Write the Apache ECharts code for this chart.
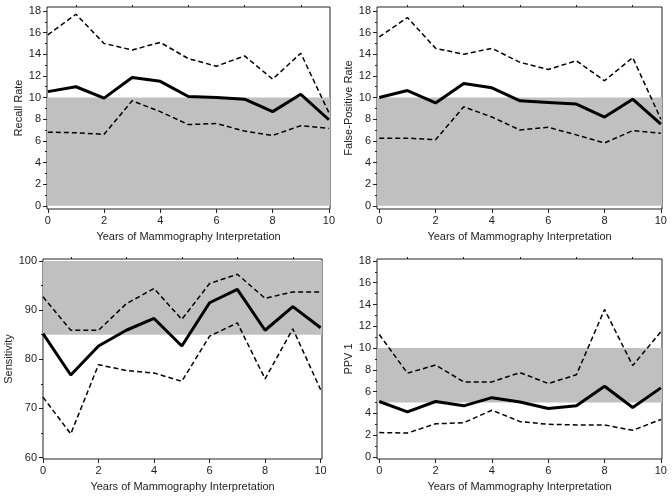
<!DOCTYPE html>
<html>
<head>
<meta charset="utf-8">
<script src="https://cdn.jsdelivr.net/npm/echarts@6/dist/echarts.min.js"></script>
<style>
  html, body { margin: 0; padding: 0; background: #fff; }
  #chart { width: 672px; height: 502px; }
</style>
</head>
<body>
<div id="chart"></div>
<script>
// years on the x axis
const years = [0, 1, 2, 3, 4, 5, 6, 7, 8, 9, 10];

// recall rate
const recallUpper = [15.8, 17.7, 15.0, 14.4, 15.1, 13.6, 12.9, 13.85, 11.7, 14.1, 8.6];
const recallMean  = [10.55, 11.0, 9.95, 11.85, 11.5, 10.1, 10.0, 9.85, 8.7, 10.3, 7.95];
const recallLower = [6.8, 6.75, 6.6, 9.7, 8.7, 7.5, 7.6, 6.9, 6.5, 7.4, 7.15];

// false-positive rate
const fprUpper = [15.6, 17.4, 14.55, 14.0, 14.55, 13.25, 12.6, 13.4, 11.55, 13.7, 8.0];
const fprMean  = [10.0, 10.65, 9.5, 11.3, 10.9, 9.7, 9.55, 9.4, 8.2, 9.85, 7.55];
const fprLower = [6.25, 6.25, 6.1, 9.15, 8.2, 7.0, 7.25, 6.55, 5.8, 6.95, 6.7];

// sensitivity
const sensUpper = [92.7, 85.9, 85.9, 91.3, 94.4, 88.1, 95.4, 97.3, 92.4, 93.7, 93.7];
const sensMean  = [85.2, 76.8, 82.7, 85.9, 88.3, 82.7, 91.5, 94.2, 85.9, 90.7, 86.4];
const sensLower = [72.3, 64.8, 78.9, 77.7, 77.2, 75.5, 84.7, 87.4, 76.0, 86.2, 73.8];

// PPV 1
const ppvUpper = [11.25, 7.7, 8.45, 6.9, 6.9, 7.75, 6.75, 7.55, 13.55, 8.4, 11.5];
const ppvMean  = [5.1, 4.15, 5.1, 4.7, 5.45, 5.05, 4.45, 4.7, 6.5, 4.55, 6.35];
const ppvLower = [2.25, 2.2, 3.05, 3.15, 4.3, 3.25, 3.0, 2.95, 2.95, 2.45, 3.45];

// shaded target ranges
const recallBand = [0, 10];
const fprBand = [0, 10];
const sensBand = [85, 100];
const ppvBand = [5, 10];

// tick values
const xTicks = [0, 2, 4, 6, 8, 10];
const xMinorTicks = [1, 3, 5, 7, 9];
const rateTicks = [0, 2, 4, 6, 8, 10, 12, 14, 16, 18];
const rateMinorTicks = [1, 3, 5, 7, 9, 11, 13, 15, 17];
const sensTicks = [60, 70, 80, 90, 100];
const sensMinorTicks = [65, 75, 85, 95];

const xTitle = 'Years of Mammography Interpretation';
const font = "'Liberation Sans', Arial, sans-serif";
const ink = '#222';

const panels = [
    {name: 'Recall Rate', upper: recallUpper, mean: recallMean, lower: recallLower, band: recallBand,
     ticks: rateTicks, minor: rateMinorTicks,
     grid: {left: 47, top: 7, width: 283, height: 202}, x: [-0.03, 10.04], y: [-0.3, 18.37], nameGap: 20},
    {name: 'False-Positive Rate', upper: fprUpper, mean: fprMean, lower: fprLower, band: fprBand,
     ticks: rateTicks, minor: rateMinorTicks,
     grid: {left: 377, top: 7, width: 285, height: 202}, x: [-0.08, 10.04], y: [-0.3, 18.37], nameGap: 20},
    {name: 'Sensitivity', upper: sensUpper, mean: sensMean, lower: sensLower, band: sensBand,
     ticks: sensTicks, minor: sensMinorTicks,
     grid: {left: 43, top: 259, width: 279, height: 200}, x: [0, 10.05], y: [59.7, 100.4], nameGap: 21},
    {name: 'PPV 1', upper: ppvUpper, mean: ppvMean, lower: ppvLower, band: ppvBand,
     ticks: rateTicks, minor: rateMinorTicks,
     grid: {left: 377, top: 259, width: 285, height: 200}, x: [-0.08, 10.04], y: [-0.18, 18.18], nameGap: 20}
];

const grids = [], xAxes = [], yAxes = [], series = [];

const pairs = vals => years.map((x, j) => [x, vals[j]]);

panels.forEach((p, i) => {
    grids.push(Object.assign({show: true, borderColor: ink, borderWidth: 1, backgroundColor: 'transparent'}, p.grid));
    //主刻度轴
    xAxes.push({
        type: 'value', gridIndex: i, min: p.x[0], max: p.x[1],
        name: xTitle, nameLocation: 'middle', nameGap: 22,
        nameTextStyle: {fontFamily: font, fontSize: 11, color: ink},
        axisLine: {show: false, onZero: false},
        axisTick: {show: true, length: 4, customValues: xTicks, lineStyle: {color: ink}},
        axisLabel: {customValues: xTicks, fontFamily: font, fontSize: 11, color: ink, margin: 6},
        splitLine: {show: false}
    });
    //次刻度轴
    xAxes.push({
        type: 'value', gridIndex: i, min: p.x[0], max: p.x[1],
        axisLine: {show: false, onZero: false},
        axisTick: {show: true, length: 2, customValues: xMinorTicks, lineStyle: {color: ink}},
        axisLabel: {show: false},
        splitLine: {show: false}
    });
    yAxes.push({
        type: 'value', gridIndex: i, position: 'left', min: p.y[0], max: p.y[1],
        name: p.name, nameLocation: 'middle', nameGap: p.nameGap,
        nameTextStyle: {fontFamily: font, fontSize: 11, color: ink},
        axisLine: {show: false, onZero: false},
        axisTick: {show: true, length: 4, customValues: p.ticks, lineStyle: {color: ink}},
        axisLabel: {customValues: p.ticks, fontFamily: font, fontSize: 11, color: ink, margin: 6},
        splitLine: {show: false}
    });
    yAxes.push({
        type: 'value', gridIndex: i, position: 'left', min: p.y[0], max: p.y[1],
        axisLine: {show: false, onZero: false},
        axisTick: {show: true, length: 2, customValues: p.minor, lineStyle: {color: ink}},
        axisLabel: {show: false},
        splitLine: {show: false}
    });

    const xi = 2 * i, yi = 2 * i;
    //灰色区域
    series.push({
        type: 'line', xAxisIndex: xi, yAxisIndex: yi, data: [], z: 1, silent: true,
        markArea: {silent: true, itemStyle: {color: '#c0c0c0'},
            data: [[{yAxis: p.band[0]}, {yAxis: p.band[1]}]]}
    });
    series.push({
        type: 'line', xAxisIndex: xi, yAxisIndex: yi, data: pairs(p.upper), z: 3,
        symbol: 'none', lineStyle: {color: '#000', width: 1.5, type: [5, 3]}
    });
    series.push({
        type: 'line', xAxisIndex: xi, yAxisIndex: yi, data: pairs(p.lower), z: 3,
        symbol: 'none', lineStyle: {color: '#000', width: 1.5, type: [5, 3]}
    });
    series.push({
        type: 'line', xAxisIndex: xi, yAxisIndex: yi, data: pairs(p.mean), z: 4,
        symbol: 'none', lineStyle: {color: '#000', width: 3}
    });
});

const chart = echarts.init(document.getElementById('chart'));
chart.setOption({
    animation: false,
    backgroundColor: '#fff',
    grid: grids,
    xAxis: xAxes,
    yAxis: yAxes,
    series: series
});
</script>
</body>
</html>
